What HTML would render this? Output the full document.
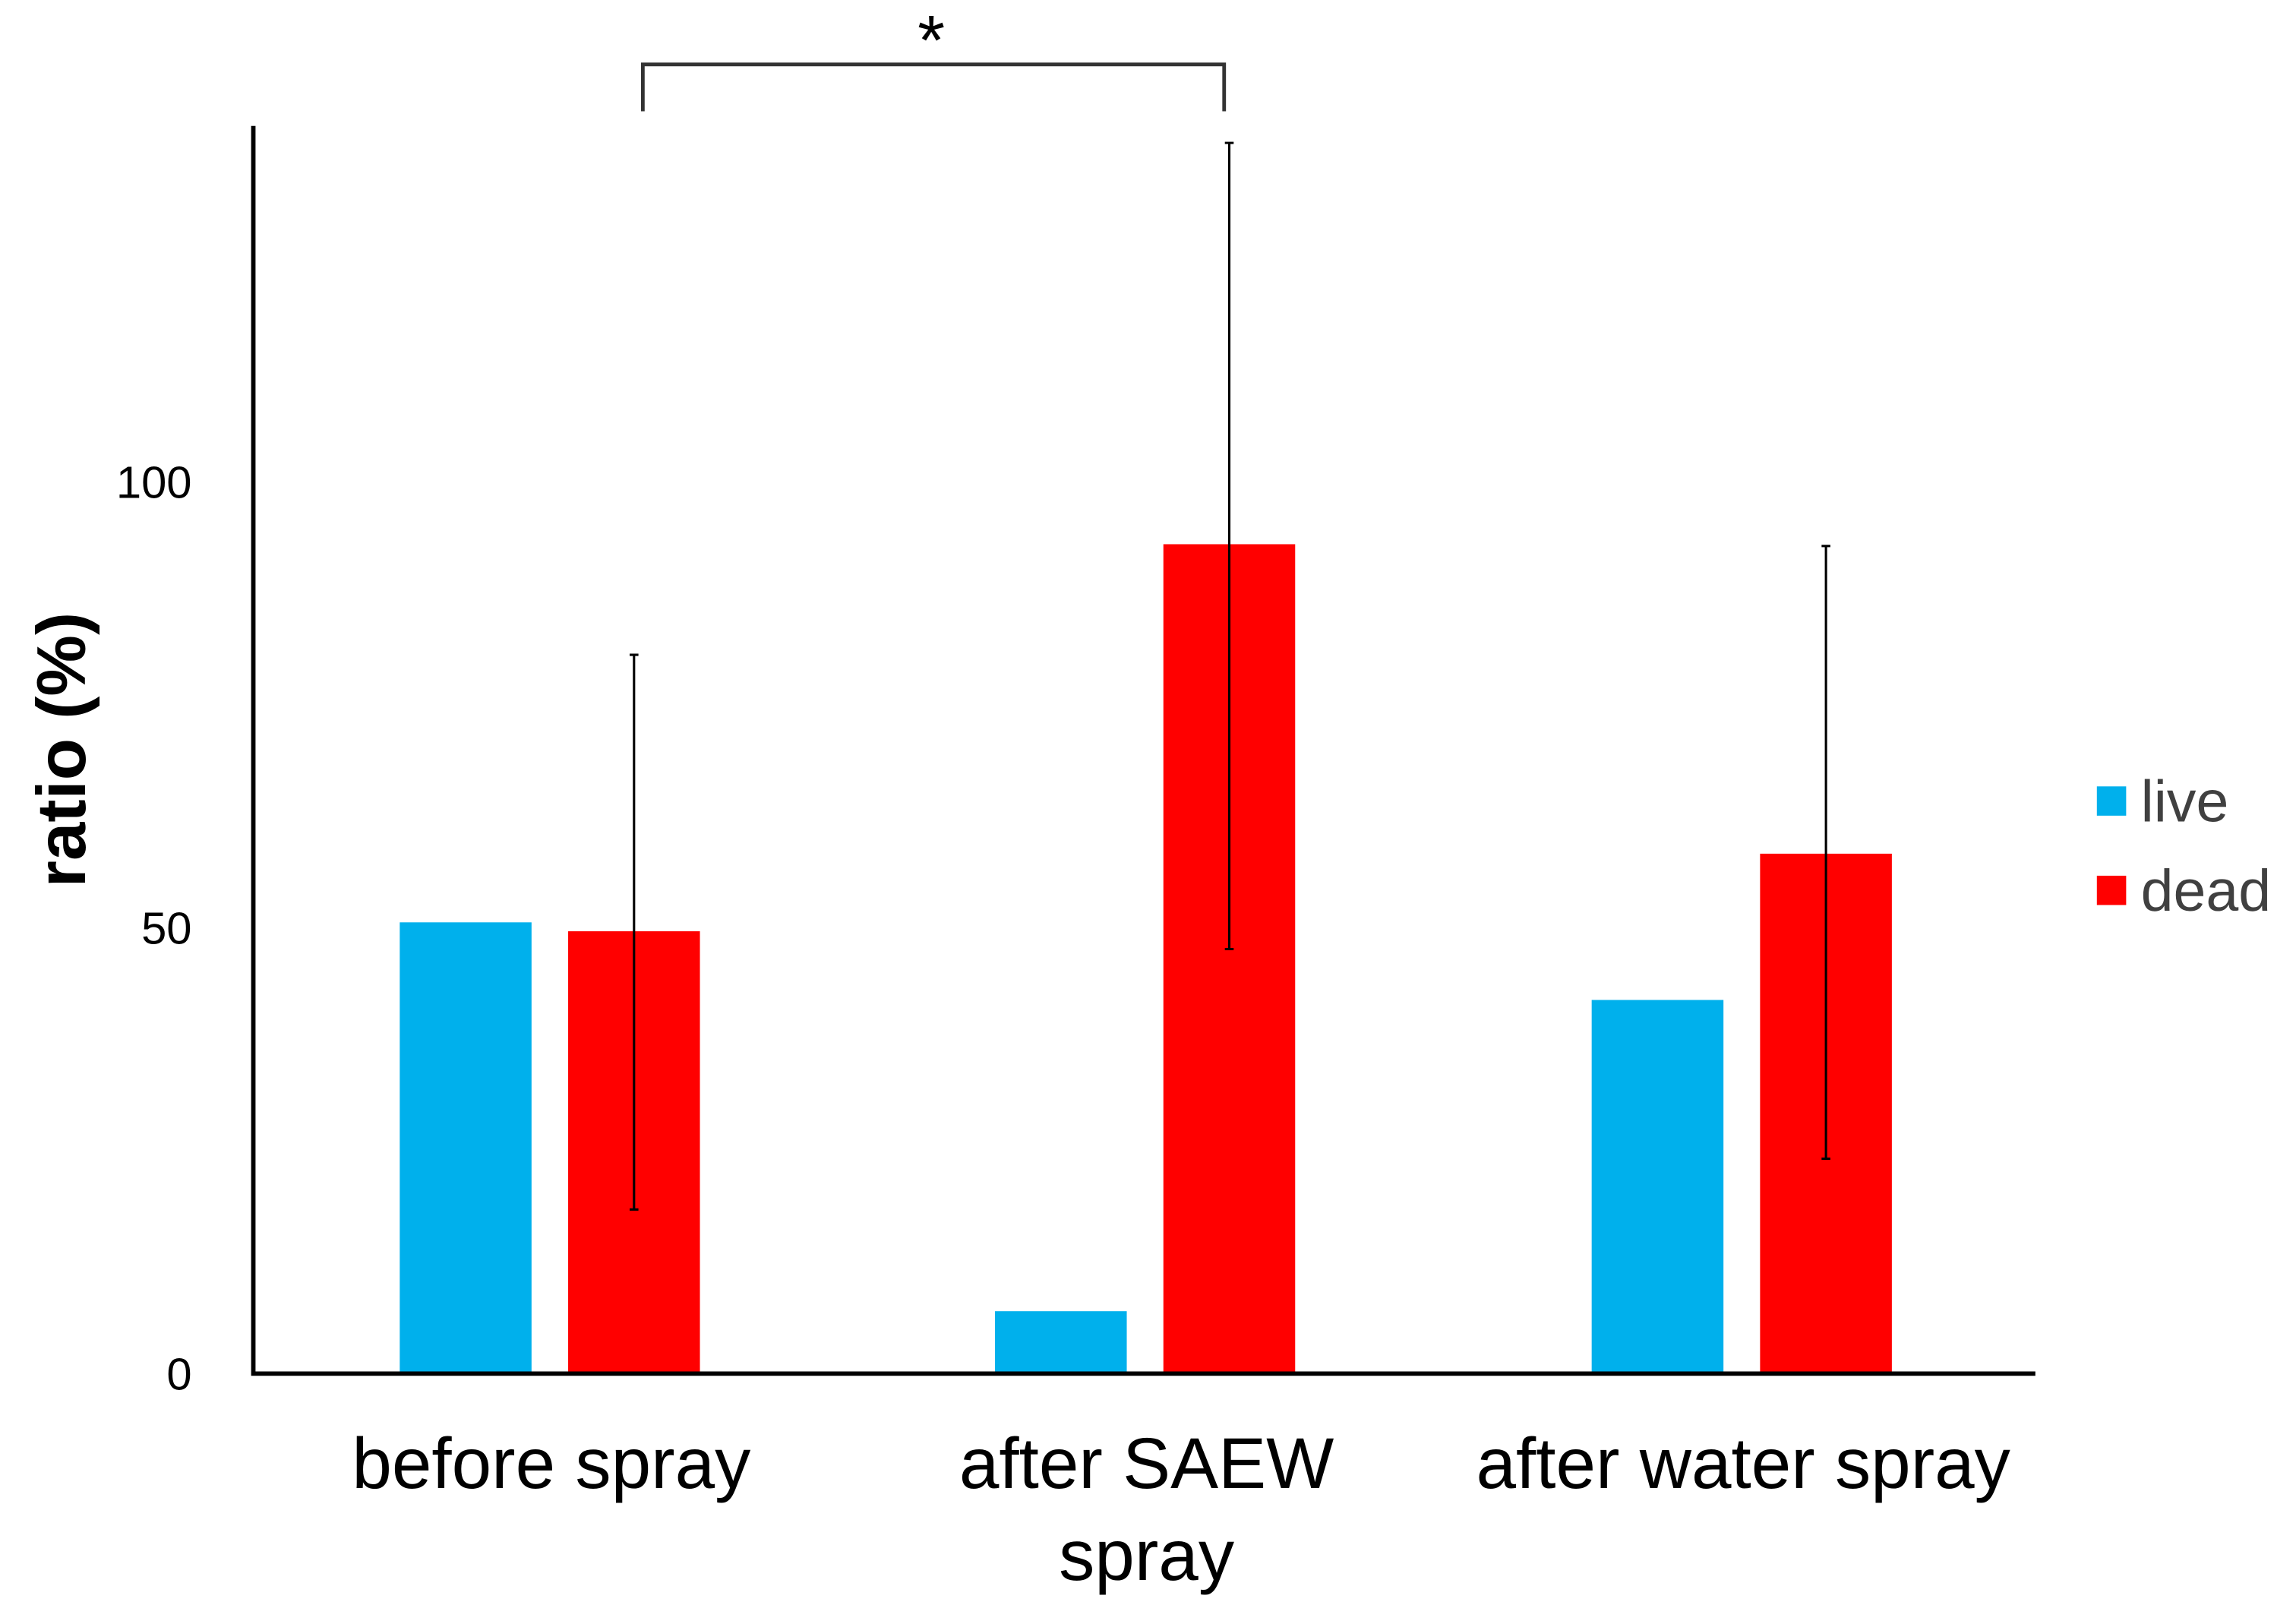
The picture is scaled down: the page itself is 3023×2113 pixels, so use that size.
<!DOCTYPE html>
<html><head><meta charset="utf-8"><style>html,body{margin:0;padding:0;background:#fff;}svg{display:block;}</style></head>
<body>
<svg id="chart" width="3023" height="2113" viewBox="0 0 1568 1096" preserveAspectRatio="none" xmlns="http://www.w3.org/2000/svg" font-family="Liberation Sans, Arial, sans-serif">
<g id="plot"></g>
</svg>
<script>
const categories = ["before spray", "after SAEW spray", "after water spray"];
const liveValues = [50.6, 7, 41.9];
const deadValues = [49.6, 93, 58.3];
const deadErrLow = [18.4, 47.6, 24.1];
const deadErrHigh = [80.6, 138, 92.8];
const yTicks = [0, 50, 100];

const NS = "http://www.w3.org/2000/svg";
const g = document.getElementById('plot');
const y0 = 938, pxPerUnit = 6.09;
function y(v){ return y0 - v * pxPerUnit; }
const groupCenters = [375.5, 782, 1188.5];
function xCenter(i){ return groupCenters[0] + i * (groupCenters[1]-groupCenters[0]) + (i===2 ? 1 : 0); }
function mk(tag, attrs, text){
  const e = document.createElementNS(NS, tag);
  for (const k in attrs) e.setAttribute(k, attrs[k]);
  if (text !== undefined) e.textContent = text;
  g.appendChild(e);
  return e;
}
const barW = 90;
categories.forEach((c, i) => {
  const cx = xCenter(i);
  const lb = mk('rect', {x: cx - 102.5, y: y(liveValues[i]), width: barW, height: y0 - y(liveValues[i]), fill: '#00b0ec'});
  
  
  const db = mk('rect', {x: cx + 12.5, y: y(deadValues[i]), width: barW, height: y0 - y(deadValues[i]), fill: '#ff0000'});
  
  
  const ex = cx + 57.5;
  const el = mk('path', {d: `M${ex},${y(deadErrLow[i])}V${y(deadErrHigh[i])}M${ex-3},${y(deadErrLow[i])}h6M${ex-3},${y(deadErrHigh[i])}h6`, stroke: '#000', 'stroke-width': 1.6, fill: 'none'});
  
  
  const words = c === "after SAEW spray" ? ["after SAEW", "spray"] : [c];
  words.forEach((w, j) => {
    const t = mk('text', {x: cx + 1, y: 1016 + j * 63, 'text-anchor': 'middle', 'font-size': 49, fill: '#000', 'textLength': 0});
    t.removeAttribute('textLength');
    t.textContent = w;
    
    
  });
});
yTicks.forEach(v => {
  const t = mk('text', {x: 131, y: y(v) + 11, 'text-anchor': 'end', 'font-size': 31, fill: '#000'}, String(v));
  
  
});
const ax = mk('path', {d: 'M173,86V938H1390', stroke: '#000', 'stroke-width': 3, fill: 'none'});


const yt = mk('text', {x: 0, y: 0, transform: 'translate(58,512) rotate(-90)', 'text-anchor': 'middle', 'font-size': 47, 'font-weight': 'bold', fill: '#000'}, 'ratio (%)');


const br = mk('path', {d: 'M439,76V44H836V76', stroke: '#333', 'stroke-width': 2.5, fill: 'none'});


const st = mk('text', {x: 636, y: 44, 'text-anchor': 'middle', 'font-size': 48, fill: '#000'}, '*');


const l1 = mk('rect', {x: 1432, y: 537, width: 20, height: 20, fill: '#00b0ec'});


const l1t = mk('text', {x: 1462, y: 561, 'font-size': 40, fill: '#404040'}, 'live');


const l2 = mk('rect', {x: 1432, y: 598, width: 20, height: 20, fill: '#ff0000'});


const l2t = mk('text', {x: 1462, y: 622, 'font-size': 40, fill: '#404040'}, 'dead');


</script>
</body></html>
